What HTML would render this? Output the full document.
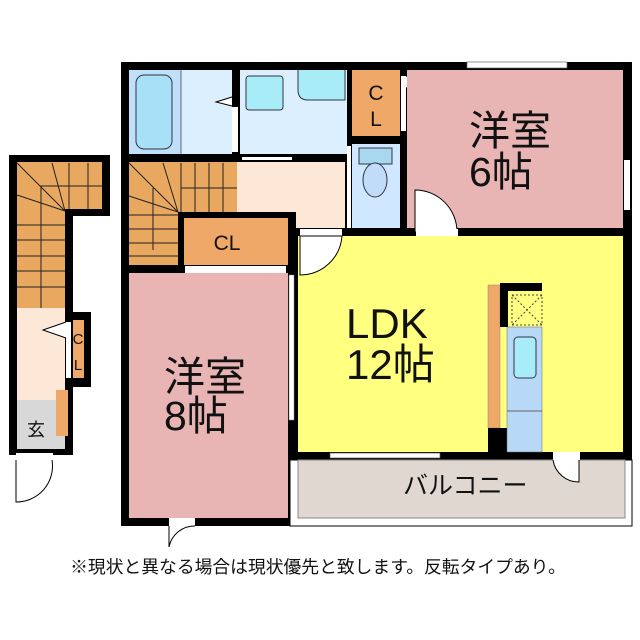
<!DOCTYPE html>
<html><head><meta charset="utf-8"><style>
html,body{margin:0;padding:0;background:#fff;width:640px;height:640px;overflow:hidden}
text{font-family:"Liberation Sans","Noto Sans CJK JP",sans-serif;fill:#111}
</style></head><body>
<svg width="640" height="640" viewBox="0 0 640 640" xmlns="http://www.w3.org/2000/svg">
<rect x="121" y="62" width="511" height="464" fill="#000"/>
<rect x="290" y="460" width="342" height="66" fill="#fff"/>
<rect x="290" y="460" width="342" height="66" fill="none" stroke="#000" stroke-width="1"/>
<rect x="298" y="460" width="327" height="58" fill="#e0d8d0" stroke="#888" stroke-width="1"/>
<rect x="129" y="70" width="103" height="84" fill="#dcefff"/>
<rect x="129" y="70" width="52" height="84" fill="#bfe0f8"/>
<rect x="136" y="75" width="36" height="74" rx="8" fill="#a8e0f8" stroke="#334" stroke-width="1"/>
<line x1="181" y1="70" x2="181" y2="154" stroke="#667" stroke-width="1"/>
<rect x="240" y="70" width="107" height="84" fill="#dcefff"/>
<rect x="246" y="76" width="37" height="34" rx="3" fill="#a8ecf8" stroke="#334"/>
<path d="M298 70 V90 Q298 100 308 100 H345 V70" fill="#a8ecf8" stroke="#334"/>
<rect x="232" y="107" width="6" height="45" fill="#fff"/>
<path d="M232 97 L216 102 L232 106" fill="#fff" stroke="#000"/>
<rect x="237" y="162" width="108" height="66" fill="#fde8d8"/>
<rect x="242" y="157" width="50" height="3" fill="#fff"/>
<rect x="352" y="70" width="48" height="66" fill="#f0a868"/>
<text x="376" y="100" font-size="21" text-anchor="middle">C</text>
<text x="376" y="126" font-size="21" text-anchor="middle">L</text>
<rect x="401" y="76" width="5" height="55" fill="#fff"/>
<path d="M406 76 L431 82 L406 88" fill="#fff" stroke="#000"/>
<rect x="352" y="144" width="48" height="84" fill="#d0e8ff"/>
<rect x="359" y="148" width="33" height="16" fill="#a8d8f0" stroke="#334"/>
<ellipse cx="375" cy="180" rx="12" ry="17" fill="#c0dcf8" stroke="#334"/>
<rect x="347" y="146" width="4" height="82" fill="#fff"/>
<rect x="407" y="70" width="216" height="158" fill="#e8b4b4"/>
<rect x="467" y="62" width="100" height="6" fill="#fff" stroke="#666" stroke-width=".7"/>
<rect x="624" y="160" width="6" height="50" fill="#fff"/>
<path d="M415 190 A42 42 0 0 1 457 232 H415 Z" fill="#fff" stroke="#000"/>
<text x="469" y="145" font-size="41">洋室</text>
<text x="469" y="186" font-size="41">6帖</text>
<rect x="129" y="162" width="108" height="103" fill="#e8a860"/>
<g stroke="#222" stroke-width="1">
<line x1="129" y1="163" x2="178" y2="212"/><line x1="163" y1="163" x2="178" y2="212"/>
<line x1="129" y1="196" x2="178" y2="212"/>
<line x1="181" y1="163" x2="181" y2="212"/><line x1="195" y1="163" x2="195" y2="212"/>
<line x1="209" y1="163" x2="209" y2="212"/><line x1="223" y1="163" x2="223" y2="212"/>
<line x1="129" y1="215" x2="178" y2="215"/><line x1="129" y1="229" x2="178" y2="229"/>
<line x1="129" y1="243" x2="178" y2="243"/><line x1="129" y1="256" x2="178" y2="256"/>
<line x1="153" y1="188" x2="153" y2="250"/>
<line x1="181" y1="188" x2="237" y2="188"/>
</g>
<rect x="178" y="212" width="118" height="61" fill="#000"/>
<rect x="184" y="218" width="104" height="47" fill="#f0a868"/>
<text x="227" y="250" font-size="21" text-anchor="middle">CL</text>
<rect x="185" y="266" width="101" height="7" fill="#fff"/>
<path d="M185 273 L192 292 L199 273 M268 273 L275 292 L282 273" fill="#fff" stroke="#000"/>
<rect x="129" y="273" width="159" height="245" fill="#e8b4b4"/>
<rect x="289" y="275" width="5" height="145" fill="#fff" stroke="#888" stroke-width=".5"/>
<text x="164" y="391" font-size="41">洋室</text>
<text x="164" y="430" font-size="41">8帖</text>
<rect x="169" y="518" width="26" height="8" fill="#fff"/>
<path d="M169 526 V547 A26 26 0 0 1 195 526" fill="#fff" stroke="#000"/>
<rect x="298" y="236" width="325" height="216" fill="#ffff80"/>
<rect x="300" y="229" width="42" height="7" fill="#fff"/>
<path d="M300 236 V275 A42 42 0 0 0 342 236 Z" fill="#fff" stroke="#000"/>
<rect x="416" y="229" width="42" height="7" fill="#fff"/>
<text x="346" y="338" font-size="42">LDK</text>
<text x="346" y="379" font-size="42">12帖</text>
<rect x="488" y="285" width="12" height="143" fill="#f0a868" stroke="#888" stroke-width=".5"/>
<rect x="488" y="428" width="19" height="24" fill="#000"/>
<rect x="500" y="283" width="42" height="8" fill="#000"/>
<rect x="500" y="283" width="8" height="44" fill="#000"/>
<rect x="512" y="295" width="30" height="30" fill="none" stroke="#444" stroke-dasharray="2,2"/>
<line x1="512" y1="295" x2="542" y2="325" stroke="#444" stroke-dasharray="2,2"/>
<line x1="542" y1="295" x2="512" y2="325" stroke="#444" stroke-dasharray="2,2"/>
<rect x="507" y="327" width="35" height="125" fill="#b8d8f8" stroke="#666" stroke-width=".5"/>
<line x1="507" y1="411" x2="542" y2="411" stroke="#666"/>
<rect x="514" y="337" width="22" height="41" rx="4" fill="#a8ecf8" stroke="#334"/>
<rect x="330" y="453" width="110" height="5" fill="#fff" stroke="#555" stroke-width=".7"/>
<rect x="553" y="452" width="27" height="8" fill="#fff"/>
<path d="M553 460 A26 26 0 0 0 579 482 V460" fill="#fff" stroke="#000"/>
<text x="403" y="494" font-size="25">バルコニー</text>
<path d="M9 155 H110 V216 H73 V455 H9 Z" fill="#000"/>
<rect x="17" y="162" width="85" height="47" fill="#e8a860"/>
<rect x="17" y="209" width="48" height="99" fill="#e8a860"/>
<g stroke="#222" stroke-width="1">
<line x1="17" y1="163" x2="65" y2="211"/><line x1="52" y1="163" x2="65" y2="211"/>
<line x1="17" y1="195" x2="65" y2="211"/>
<line x1="69" y1="163" x2="69" y2="209"/><line x1="88" y1="163" x2="88" y2="209"/>
<line x1="40" y1="186" x2="102" y2="186"/>
<line x1="41" y1="186" x2="41" y2="308"/>
<line x1="17" y1="225" x2="65" y2="225"/><line x1="17" y1="240" x2="65" y2="240"/>
<line x1="17" y1="256" x2="65" y2="256"/><line x1="17" y1="271" x2="65" y2="271"/>
<line x1="17" y1="287" x2="65" y2="287"/>
</g>
<rect x="17" y="308" width="48" height="92" fill="#fde8d8"/>
<rect x="65" y="312" width="26" height="75" fill="#000"/>
<rect x="73" y="320" width="11" height="58" fill="#f0a868"/>
<text x="78" y="344" font-size="15" text-anchor="middle">C</text>
<text x="78" y="370" font-size="15" text-anchor="middle">L</text>
<rect x="66" y="322" width="5" height="56" fill="#fff"/>
<path d="M66 322 L43 330 L66 338" fill="#fff" stroke="#000"/>
<rect x="17" y="400" width="48" height="49" fill="#d8d8d8"/>
<rect x="56" y="390" width="12" height="46" fill="#f0a868"/>
<text x="27" y="436" font-size="18">玄</text>
<rect x="16" y="453" width="37" height="7" fill="#fff"/>
<path d="M16 460 V502 A36 36 0 0 0 52 460" fill="#fff" stroke="#000"/>
<text x="318" y="573" font-size="17.8" text-anchor="middle">※現状と異なる場合は現状優先と致します。反転タイプあり。</text>
</svg>
</body></html>
